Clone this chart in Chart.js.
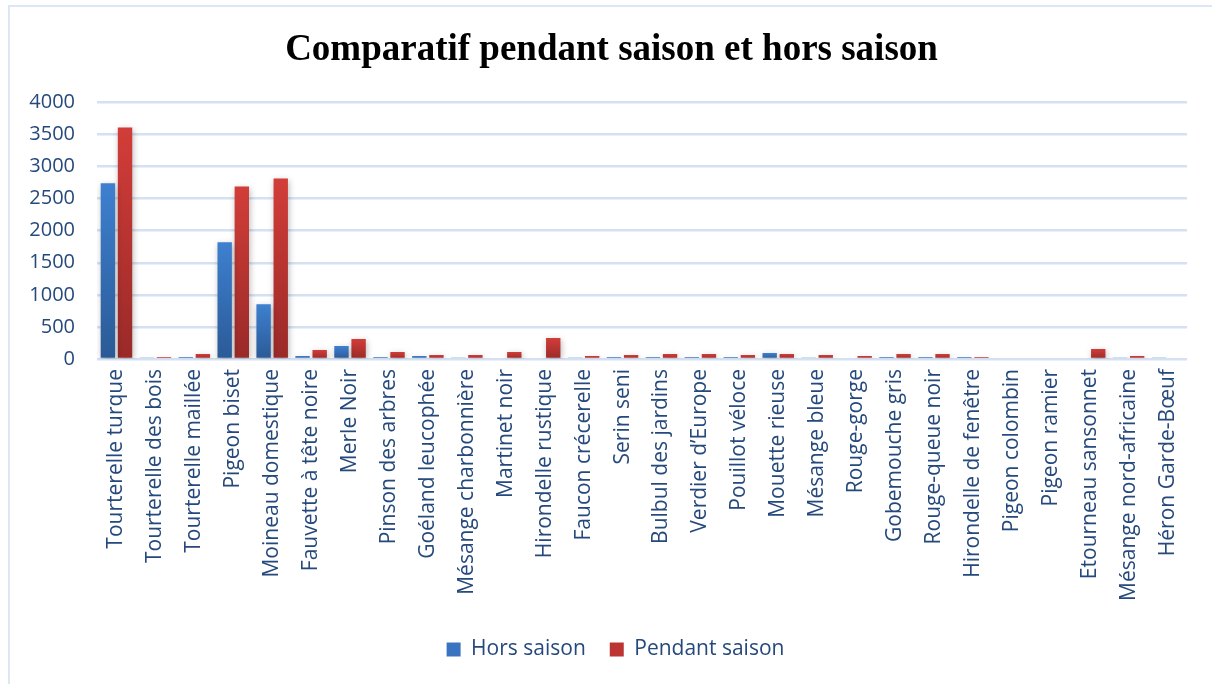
<!DOCTYPE html>
<html>
<head>
<meta charset="utf-8">
<script src="https://cdn.jsdelivr.net/npm/chart.js@4"></script>
<style>
  html, body { margin: 0; padding: 0; background: #fff; }
  #wrap { position: relative; width: 1212px; height: 684px; }
  #frame { position: absolute; left: 8px; top: 5px; right: 0; bottom: 0;
           border-left: 2px solid #DCE6F4; border-top: 2px solid #DCE6F4; }
  canvas { position: absolute; left: 0; top: 0; }
</style>
</head>
<body>
<div id="wrap">
  <div id="frame"></div>
  <canvas id="chart" width="1212" height="684"></canvas>
</div>
<script>
const species = [
    'Tourterelle turque', 'Tourterelle des bois', 'Tourterelle maillée', 'Pigeon biset',
    'Moineau domestique', 'Fauvette à tête noire', 'Merle Noir', 'Pinson des arbres',
    'Goéland leucophée', 'Mésange charbonnière', 'Martinet noir', 'Hirondelle rustique',
    'Faucon crécerelle', 'Serin seni', 'Bulbul des jardins', 'Verdier d\u2019Europe',
    'Pouillot véloce', 'Mouette rieuse', 'Mésange bleue', 'Rouge-gorge',
    'Gobemouche gris', 'Rouge-queue noir', 'Hirondelle de fenêtre', 'Pigeon colombin',
    'Pigeon ramier', 'Etourneau sansonnet', 'Mésange nord-africaine', 'Héron Garde-Bœuf'
];
const horsSaison = [
    2740, 16, 31, 1820, 855, 47, 202, 31, 47, 16, 0, 0, 16, 31,
    31, 31, 31, 93, 16, 0, 31, 31, 31, 0, 0, 0, 16, 16
];
const pendantSaison = [
    3610, 31, 78, 2690, 2815, 140, 311, 109, 62, 62, 109, 326, 47, 62,
    78, 78, 62, 78, 62, 47, 78, 78, 31, 0, 0, 155, 47, 0
];
const yTicks = [0, 500, 1000, 1500, 2000, 2500, 3000, 3500, 4000];

const textColor = '#25497C';
const gridColor = '#D5E1F2';

// per-bar vertical gradient, lighter at the top
function barGradient(top, bottom) {
    return (context) => {
        const chart = context.chart;
        const area = chart.chartArea;
        if (!area || context.type !== 'data') return bottom;
        const y = chart.scales.y;
        const yTop = y.getPixelForValue(context.parsed.y);
        const yBase = y.getPixelForValue(0);
        if (yBase - yTop < 1) return top;
        const g = chart.ctx.createLinearGradient(0, yTop, 0, yBase);
        g.addColorStop(0, top);
        g.addColorStop(1, bottom);
        return g;
    };
}

const shadowPlugin = {
    id: 'barShadow',
    beforeDatasetsDraw(chart) {
        const ctx = chart.ctx;
        ctx.save();
        ctx.shadowColor = 'rgba(0,0,0,0.28)';
        ctx.shadowBlur = 6;
        ctx.shadowOffsetX = 1;
        ctx.shadowOffsetY = 2;
    },
    afterDatasetsDraw(chart) {
        chart.ctx.restore();
    }
};

// title and legend sit a bit right of the canvas centre in the original
function nudge(box, dx) {
    const draw = box.draw.bind(box);
    box.draw = function (area) {
        box.ctx.save();
        box.ctx.translate(dx, 0);
        draw(area);
        box.ctx.restore();
    };
}
const nudgePlugin = {
    id: 'nudge',
    afterInit(chart) {
        if (chart.titleBlock) nudge(chart.titleBlock, 6);
        if (chart.legend) nudge(chart.legend, 10);
    }
};

const legendColors = ['#3A74C0', '#BC3533'];

new Chart(document.getElementById('chart').getContext('2d'), {
    type: 'bar',
    data: {
        labels: species,
        datasets: [
            {
                label: 'Hors saison',
                data: horsSaison,
                backgroundColor: barGradient('#3E80D0', '#2B5A96')
            },
            {
                label: 'Pendant saison',
                data: pendantSaison,
                backgroundColor: barGradient('#D23D39', '#992A28')
            }
        ]
    },
    options: {
        responsive: false,
        animation: false,
        categoryPercentage: 0.88,
        barPercentage: 0.84,
        layout: { padding: { left: 24, right: 25, top: 6, bottom: 14 } },
        scales: {
            x: {
                grid: { display: false },
                border: { display: false },
                ticks: {
                    color: textColor,
                    font: { family: 'Open Sans', size: 21 },
                    minRotation: 90,
                    maxRotation: 90,
                    autoSkip: false,
                    padding: 2
                },
                afterFit(scale) { scale.height = 256; }
            },
            y: {
                min: 0,
                max: 4000,
                afterBuildTicks(scale) {
                    scale.ticks = yTicks.map(v => ({ value: v }));
                },
                grid: { color: gridColor, lineWidth: 2.5, drawTicks: false },
                border: { display: false },
                ticks: {
                    color: textColor,
                    font: { family: 'Open Sans', size: 20 },
                    padding: 22,
                    callback: (value) => String(value)
                },
                afterFit(scale) { scale.width = 73; }
            }
        },
        plugins: {
            title: {
                display: true,
                text: 'Comparatif pendant saison et hors saison',
                color: '#000',
                font: { family: 'Liberation Serif', size: 37, weight: 'bold' },
                padding: { top: 22, bottom: 30 }
            },
            legend: {
                position: 'bottom',
                labels: {
                    color: textColor,
                    font: { family: 'Open Sans', size: 21 },
                    boxWidth: 14,
                    boxHeight: 14,
                    padding: 24,
                    generateLabels(chart) {
                        return chart.data.datasets.map((ds, i) => ({
                            text: ds.label,
                            fillStyle: legendColors[i],
                            strokeStyle: legendColors[i],
                            lineWidth: 0,
                            fontColor: textColor,
                            datasetIndex: i
                        }));
                    }
                }
            },
            tooltip: { enabled: false }
        }
    },
    plugins: [shadowPlugin, nudgePlugin]
});
</script>
</body>
</html>
